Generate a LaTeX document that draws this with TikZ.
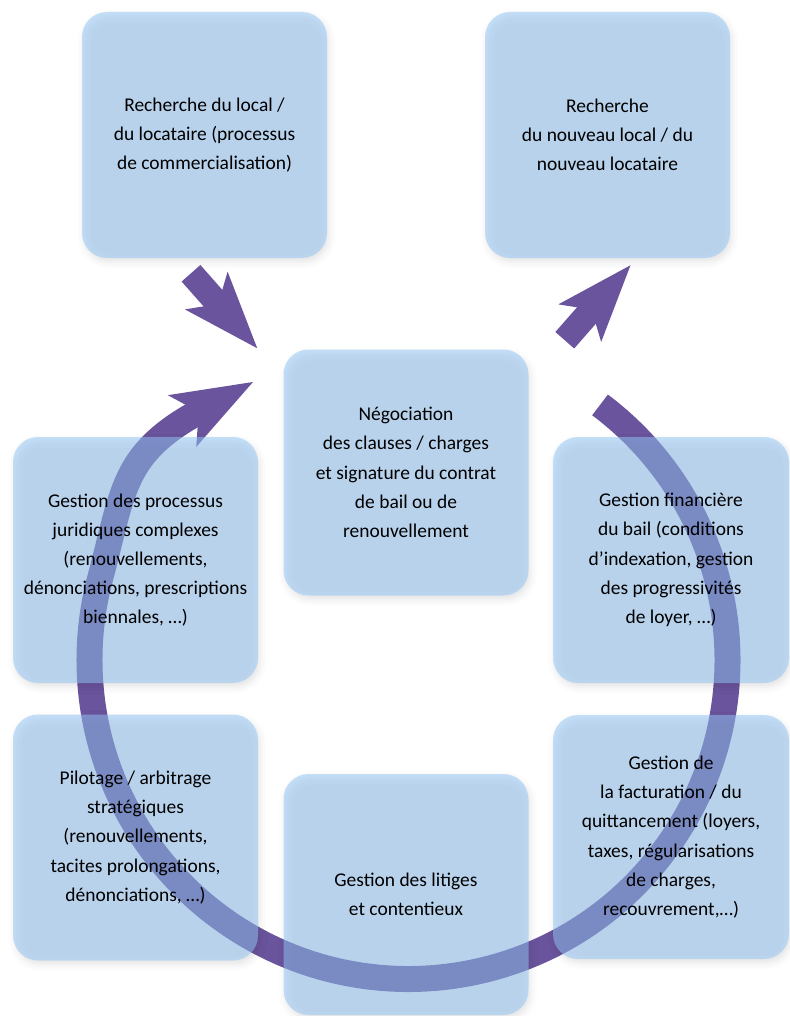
\documentclass[tikz,border=0pt]{standalone}
\usepackage{fontspec}
\setmainfont{Carlito}
\usetikzlibrary{arrows.meta,shadows.blur}
\definecolor{ringpurple}{RGB}{106,84,157}
\definecolor{boxblue}{RGB}{147,196,245}

\begin{document}
\begin{tikzpicture}[x=0.75pt,y=-0.75pt,
    box/.style={fill=boxblue, fill opacity=0.53, text opacity=1,
      rounded corners=18.75pt, minimum width=183.75pt, minimum height=184.5pt,
      align=center, font=\fontsize{14.6}{21.9}\selectfont,
      blur shadow={shadow xshift=1.5pt, shadow yshift=-3pt,
        shadow blur radius=5pt, shadow opacity=20}},
    ring/.style={draw=ringpurple, line width=19.5pt,
      -{Stealth[length=60.75pt, width=44.25pt, inset=14.25pt, line width=0pt]}},
    bigarrow/.style={draw=ringpurple, line width=18.75pt,
      -{Stealth[length=57.75pt, width=42.75pt, inset=13.5pt, line width=0pt]}}]
  \useasboundingbox (0,0) rectangle (789,1016);

  % cycle under the boxes
  \coordinate (ringc) at (408.5,660);
  \coordinate (ringtip) at (253,382);
  \draw[ring] ([shift={(-53.1:319)}]ringc)
    arc[start angle=-53.1, end angle=195, radius=319]
    .. controls (123.7,490.5) and (121.5,454.3) .. (ringtip);

  \node[box] (local) at (204.5,135) {Recherche du local /\\du locataire (processus\\de commercialisation)};
  \node[box] (nouveau) at (607.5,135) {Recherche\\du nouveau local / du\\nouveau locataire};
  \node[box] (nego) at (406,472.5) {Négociation\\des clauses / charges\\et signature du contrat\\de bail ou de\\renouvellement};
  \node[box] (jurid) at (135.5,560) {Gestion des processus\\juridiques complexes\\(renouvellements,\\dénonciations, prescriptions\\biennales, …)};
  \node[box, minimum width=177pt] (financ) at (671,560) {Gestion financière\\du bail (conditions\\d’indexation, gestion\\des progressivités\\de loyer, …)};
  \node[box] (pilot) at (135.5,837.5) {Pilotage / arbitrage\\stratégiques\\(renouvellements,\\tacites prolongations,\\dénonciations, …)};
  \node[box, minimum height=180.75pt] (litig) at (406,894.5) {Gestion des litiges\\et contentieux};
  \node[box, minimum width=177pt, minimum height=183pt] (factur) at (671,837) {Gestion de\\la facturation / du\\quittancement (loyers,\\taxes, régularisations\\de charges,\\recouvrement,…)};

  \draw[bigarrow] ([shift={(-13.5,15)}]local.south) -- ([shift={(-26,-1)}]nego.north west);
  \draw[bigarrow] ([shift={(36,-9)}]nego.north east) -- ([shift={(23,7)}]nouveau.south);
\end{tikzpicture}
\end{document}
